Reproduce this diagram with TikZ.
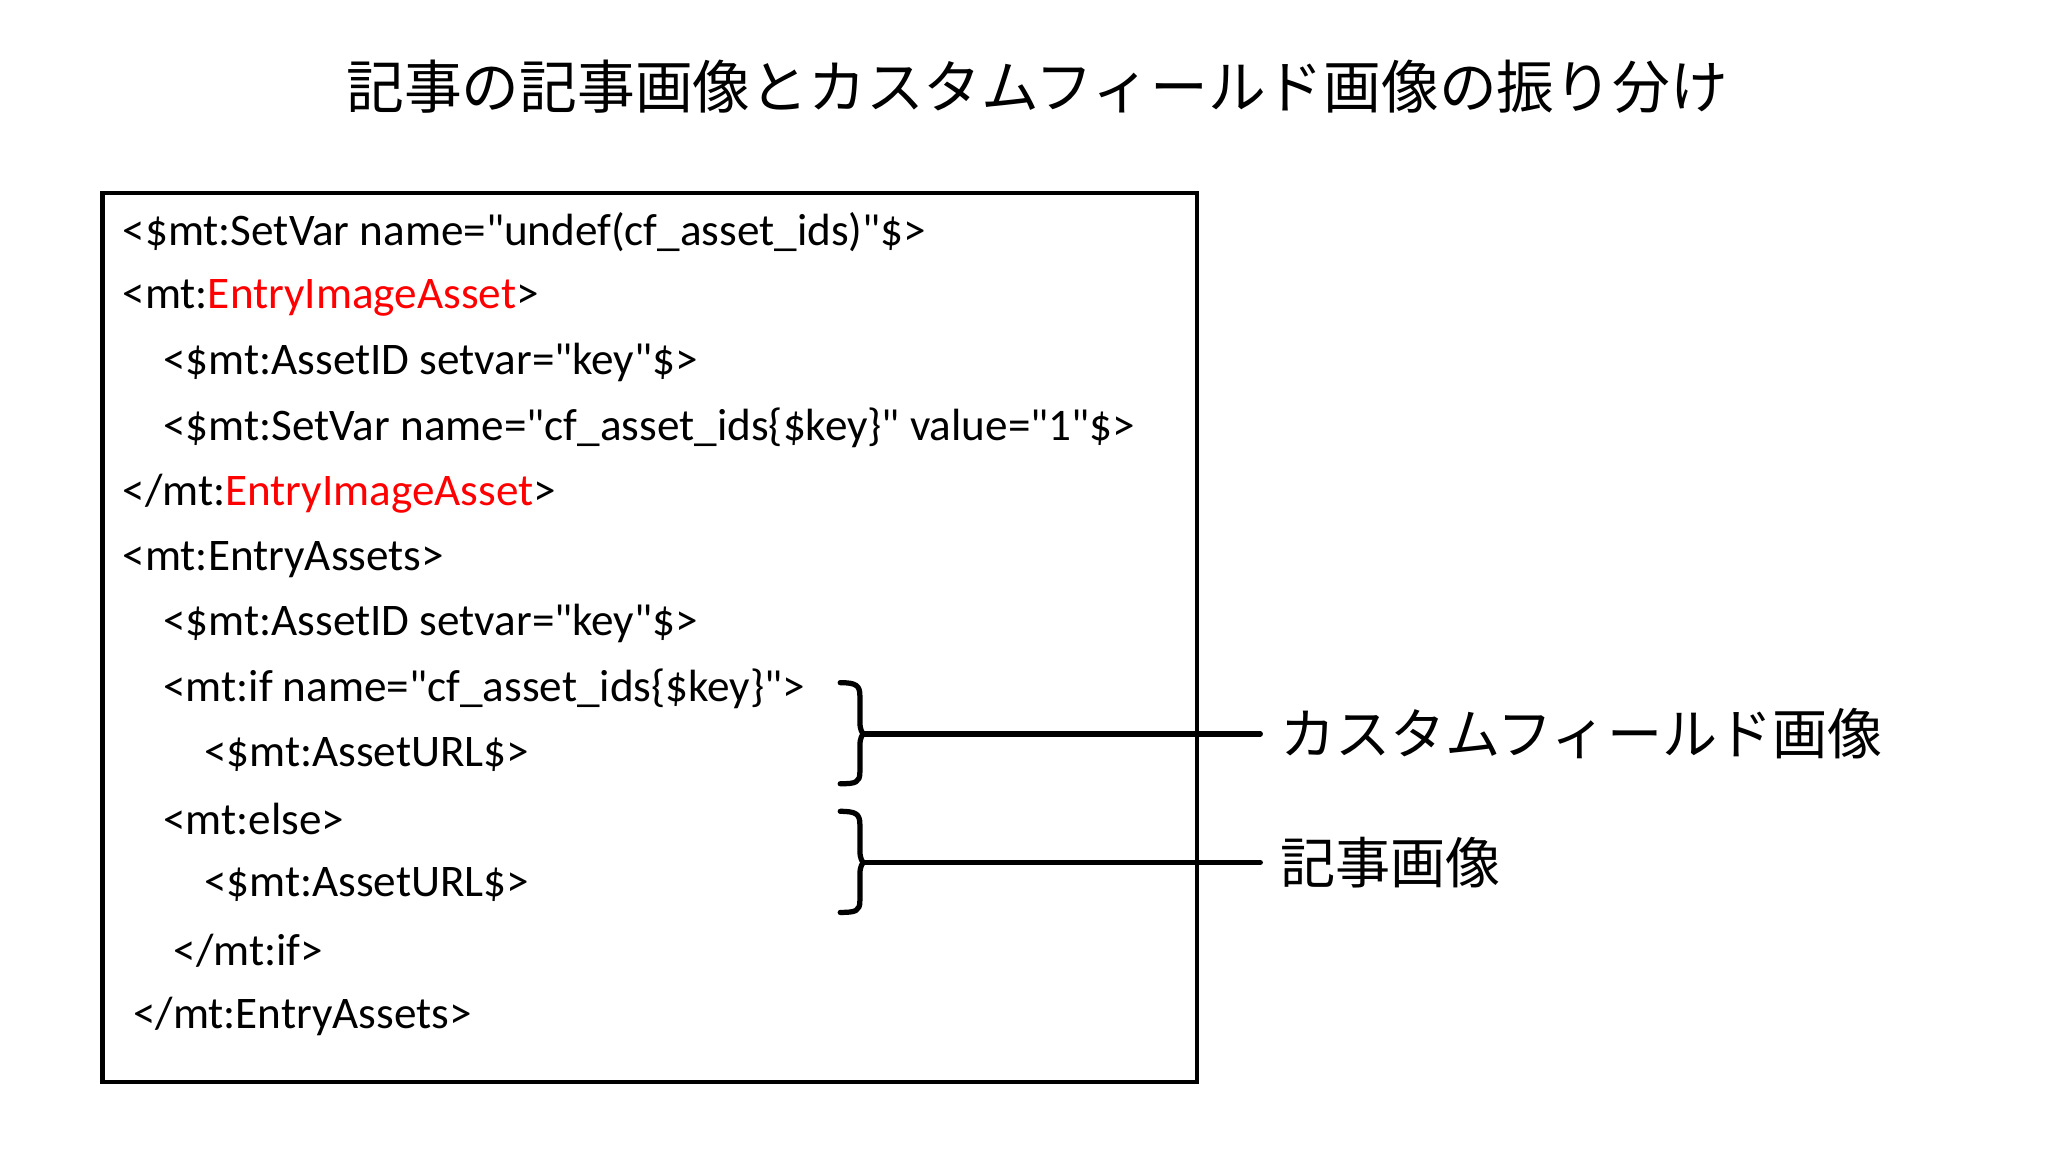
\documentclass[tikz,border=0pt]{standalone}
\usepackage{fontspec}
\newfontfamily\cf{Carlito}
\newfontfamily\jp{Noto Sans CJK JP}
\begin{document}
\begin{tikzpicture}[x=0.5pt,y=-0.5pt,
  code/.style={anchor=west,inner sep=0pt,font=\cf\fontsize{17.2}{20}\selectfont},
  jlabel/.style={anchor=west,inner sep=0pt,font=\jp\fontsize{21}{25}\selectfont},
  br/.style={line width=2pt,line cap=round,line join=round}]
\useasboundingbox (0,0) rectangle (1560,879);
\node[font=\jp\fontsize{22}{26}\selectfont] (title) at (790,66) {記事の記事画像とカスタムフィールド画像の振り分け};
\draw[line width=1.6pt] (78,147) rectangle (912,824);
\node[code] (l1) at (93,177) {<\$mt:SetVar name="undef(cf\_asset\_ids)"\$>};
\node[code] (l2) at (93,227) {<mt:\textcolor{red}{EntryImageAsset}>};
\node[code] (l3) at (124,276) {<\$mt:AssetID setvar="key"\$>};
\node[code] (l4) at (124,326) {<\$mt:SetVar name="cf\_asset\_ids\{\$key\}" value="1"\$>};
\node[code] (l5) at (93,376) {</mt:\textcolor{red}{EntryImageAsset}>};
\node[code] (l6) at (93,426) {<mt:EntryAssets>};
\node[code] (l7) at (124,475) {<\$mt:AssetID setvar="key"\$>};
\node[code] (l8) at (124,525) {<mt:if name="cf\_asset\_ids\{\$key\}">};
\node[code] (l9) at (155,575) {<\$mt:AssetURL\$>};
\node[code] (l10) at (124,624) {<mt:else>};
\node[code] (l11) at (155,674) {<\$mt:AssetURL\$>};
\node[code] (l12) at (132,724) {</mt:if>};
\node[code] (l13) at (101,774) {</mt:EntryAssets>};
% braces
\coordinate (b1) at (658,559);
\coordinate (b2) at (658,657);
\coordinate (e1) at (960,559);
\coordinate (e2) at (960,657);
\draw[br] (640,520) .. controls (652,520) and (655,522) .. (655,530) -- (655,550) .. controls (655,556) and (657,559) .. (b1)
  .. controls (657,559) and (655,562) .. (655,568) -- (655,588) .. controls (655,596) and (652,597) .. (640,597);
\draw[br] (640,618) .. controls (652,618) and (655,620) .. (655,628) -- (655,648) .. controls (655,654) and (657,657) .. (b2)
  .. controls (657,657) and (655,660) .. (655,666) -- (655,686) .. controls (655,694) and (652,695) .. (640,695);
\node[jlabel] (c1) at (975,559) {カスタムフィールド画像};
\node[jlabel] (c2) at (975,657) {記事画像};
\draw[br] (b1) -- (e1);
\draw[br] (b2) -- (e2);
\end{tikzpicture}
\end{document}
